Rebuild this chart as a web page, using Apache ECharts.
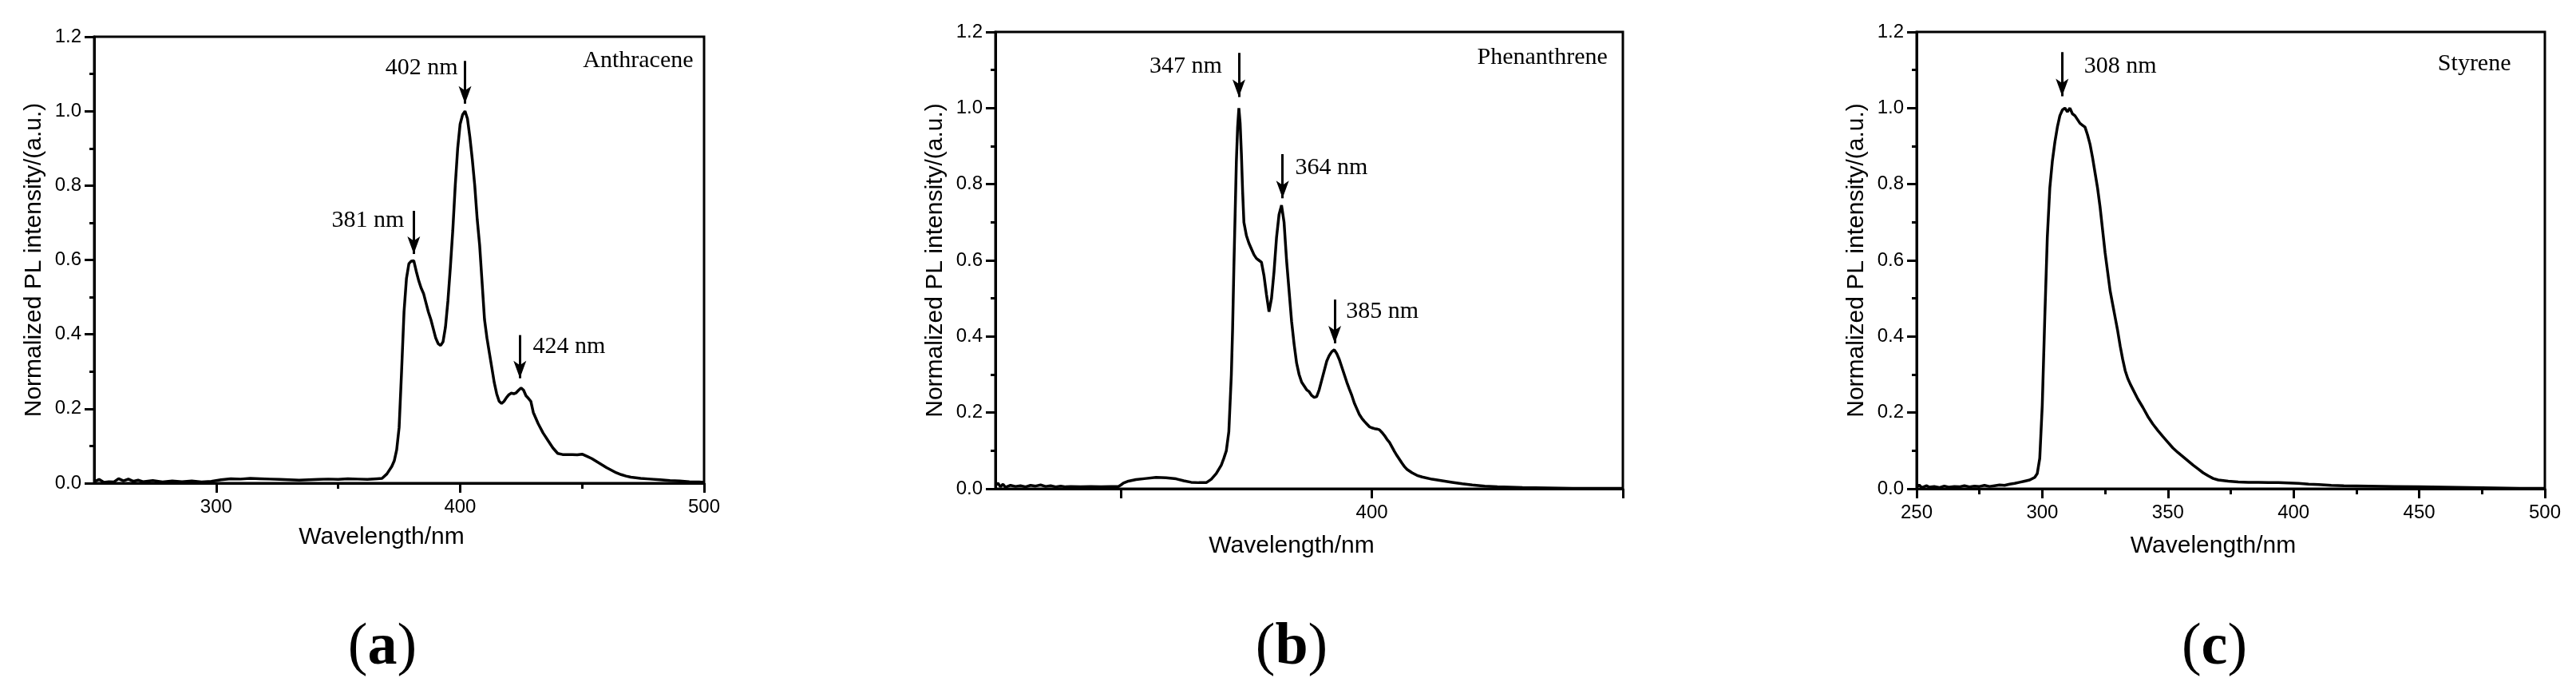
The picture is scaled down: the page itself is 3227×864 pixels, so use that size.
<!DOCTYPE html>
<html>
<head>
<meta charset="utf-8">
<title>PL spectra</title>
<script src="https://cdn.jsdelivr.net/npm/echarts@6.0.0/dist/echarts.min.js"></script>
<style>
html, body { margin: 0; padding: 0; background: #fff; }
#box { width: 3227px; height: 864px; }
</style>
</head>
<body>
<div id="box"></div>
<script>
// (a) Anthracene
var anthWl = [250, 252, 254, 256, 258, 260, 262, 264, 266, 268, 270, 274, 278, 282, 286, 290, 294, 298, 302, 306, 310, 314, 318, 322, 326, 330, 334, 338, 342, 346, 350, 354, 358, 362, 366, 368, 370, 372, 373, 374, 375, 376, 377, 378, 379, 380, 381, 382, 383, 384, 385, 386, 387, 388, 389, 390, 391, 392, 393, 394, 395, 396, 397, 398, 399, 400, 401, 402, 403, 404, 405, 406, 407, 408, 409, 410, 411, 412, 413, 414, 415, 416, 417, 418, 419, 420, 421, 422, 423, 424, 425, 426, 427, 428, 429, 430, 431, 432, 434, 436, 438, 440, 442, 444, 446, 448, 450, 452, 454, 456, 458, 460, 462, 464, 466, 468, 470, 474, 478, 482, 486, 490, 494, 498, 500];
var anthVal = [0.004, 0.010, 0.002, 0.004, 0.003, 0.012, 0.006, 0.011, 0.005, 0.008, 0.004, 0.007, 0.003, 0.006, 0.004, 0.006, 0.003, 0.005, 0.009, 0.012, 0.011, 0.013, 0.012, 0.011, 0.010, 0.009, 0.008, 0.009, 0.010, 0.011, 0.010, 0.012, 0.011, 0.010, 0.012, 0.013, 0.025, 0.045, 0.060, 0.090, 0.150, 0.300, 0.460, 0.550, 0.590, 0.597, 0.598, 0.570, 0.545, 0.525, 0.510, 0.485, 0.460, 0.440, 0.415, 0.390, 0.375, 0.370, 0.380, 0.420, 0.490, 0.580, 0.680, 0.800, 0.900, 0.965, 0.990, 1.000, 0.980, 0.930, 0.870, 0.800, 0.710, 0.640, 0.540, 0.440, 0.390, 0.350, 0.310, 0.270, 0.240, 0.220, 0.214, 0.220, 0.230, 0.238, 0.242, 0.240, 0.243, 0.250, 0.256, 0.250, 0.235, 0.228, 0.220, 0.190, 0.175, 0.160, 0.135, 0.115, 0.095, 0.080, 0.077, 0.077, 0.077, 0.076, 0.078, 0.072, 0.066, 0.058, 0.050, 0.042, 0.035, 0.028, 0.023, 0.019, 0.016, 0.013, 0.011, 0.009, 0.007, 0.006, 0.004, 0.003, 0.002];

// (b) Phenanthrene
var phenWl = [250, 251, 252, 253, 254, 256, 258, 260, 262, 264, 266, 268, 270, 272, 274, 276, 278, 280, 284, 288, 292, 296, 299, 300, 301, 303, 306, 310, 314, 318, 322, 325, 328, 331, 334, 336, 338, 340, 341, 342, 343, 344, 344.5, 345, 345.5, 346, 346.5, 347, 347.5, 348, 348.5, 349, 350, 351, 352, 353, 354, 355, 356, 357, 358, 359, 360, 361, 362, 363, 364, 365, 366, 367, 368, 369, 370, 371, 372, 373, 374, 375, 376, 377, 378, 379, 380, 381, 382, 383, 384, 385, 386, 387, 388, 389, 390, 391, 392, 393, 394, 395, 396, 397, 398, 399, 400, 401, 402, 403, 404, 405, 406, 407, 408, 409, 410, 411, 412, 413, 414, 416, 418, 420, 424, 428, 432, 436, 440, 445, 450, 460, 470, 480, 490, 500];
var phenVal = [0.008, 0.015, 0.005, 0.012, 0.004, 0.009, 0.006, 0.008, 0.005, 0.009, 0.007, 0.010, 0.006, 0.008, 0.005, 0.007, 0.005, 0.006, 0.005, 0.006, 0.005, 0.006, 0.006, 0.010, 0.015, 0.020, 0.024, 0.027, 0.030, 0.029, 0.026, 0.021, 0.017, 0.016, 0.016, 0.025, 0.040, 0.062, 0.080, 0.100, 0.150, 0.300, 0.420, 0.580, 0.720, 0.860, 0.950, 1.000, 0.960, 0.880, 0.780, 0.700, 0.665, 0.645, 0.630, 0.615, 0.605, 0.600, 0.595, 0.560, 0.510, 0.465, 0.500, 0.570, 0.660, 0.720, 0.745, 0.700, 0.600, 0.520, 0.440, 0.380, 0.330, 0.300, 0.280, 0.270, 0.260, 0.255, 0.245, 0.240, 0.242, 0.260, 0.285, 0.310, 0.335, 0.350, 0.360, 0.365, 0.355, 0.340, 0.320, 0.300, 0.280, 0.262, 0.245, 0.225, 0.210, 0.195, 0.185, 0.177, 0.170, 0.163, 0.160, 0.158, 0.157, 0.155, 0.148, 0.140, 0.130, 0.122, 0.110, 0.098, 0.087, 0.077, 0.067, 0.058, 0.051, 0.042, 0.035, 0.031, 0.025, 0.021, 0.017, 0.013, 0.010, 0.007, 0.005, 0.003, 0.002, 0.001, 0.001, 0.001];

// (c) Styrene
var styrWl = [250, 251, 252, 254, 255, 257, 259, 261, 263, 265, 267, 269, 271, 273, 275, 277, 279, 281, 283, 285, 287, 289, 291, 293, 295, 297, 298, 299, 300, 301, 302, 303, 304, 305, 306, 307, 308, 309, 310, 311, 312, 313, 314, 315, 316, 317, 318, 319, 320, 321, 322, 323, 324, 325, 326, 327, 328, 329, 330, 331, 332, 333, 334, 335, 336, 338, 340, 342, 344, 346, 348, 350, 352, 354, 356, 358, 360, 362, 364, 366, 368, 370, 374, 378, 382, 386, 390, 394, 398, 402, 406, 410, 415, 420, 430, 440, 450, 460, 470, 480, 490, 500];
var styrVal = [0.004, 0.010, 0.003, 0.008, 0.004, 0.006, 0.003, 0.007, 0.004, 0.006, 0.005, 0.008, 0.005, 0.007, 0.006, 0.009, 0.006, 0.008, 0.010, 0.009, 0.012, 0.014, 0.017, 0.020, 0.023, 0.030, 0.040, 0.080, 0.220, 0.450, 0.660, 0.790, 0.860, 0.910, 0.950, 0.980, 0.995, 1.000, 0.990, 1.000, 0.985, 0.980, 0.970, 0.960, 0.955, 0.950, 0.930, 0.905, 0.870, 0.830, 0.790, 0.740, 0.680, 0.620, 0.570, 0.520, 0.485, 0.450, 0.415, 0.375, 0.340, 0.310, 0.290, 0.275, 0.262, 0.236, 0.214, 0.190, 0.170, 0.153, 0.137, 0.122, 0.107, 0.095, 0.084, 0.073, 0.062, 0.052, 0.042, 0.034, 0.027, 0.023, 0.020, 0.018, 0.017, 0.017, 0.016, 0.016, 0.015, 0.014, 0.012, 0.011, 0.009, 0.008, 0.007, 0.006, 0.005, 0.004, 0.003, 0.002, 0.001, 0.001];

// peak arrows: [wavelength, top, tip]
var anthArrows = [[402, 1.135, 1.02], [381, 0.732, 0.616], [424.5, 0.398, 0.282]];
var phenArrows = [[347, 1.145, 1.029], [364.4, 0.879, 0.763], [385.2, 0.497, 0.382]];
var styrArrows = [[307.9, 1.147, 1.031]];

// text notes: [text, wavelength, y, side]
var anthNotes = [['402 nm', 399.1, 1.117, 'left'], ['381 nm', 377.1, 0.706, 'left'], ['424 nm', 429.8, 0.367, 'right'], ['Anthracene', 495.6, 1.135, 'left']];
var phenNotes = [['347 nm', 340.3, 1.11, 'left'], ['364 nm', 369.4, 0.844, 'right'], ['385 nm', 389.7, 0.465, 'right'], ['Phenanthrene', 493.9, 1.133, 'left']];
var styrNotes = [['308 nm', 316.6, 1.11, 'right'], ['Styrene', 486.5, 1.116, 'left']];

var sans = 'Liberation Sans';
var serif = 'Liberation Serif';

function pairs(xs, ys) {
    return xs.map(function (x, i) { return [x, ys[i]]; });
}

function yAxisFor(gi) {
    return {
        gridIndex: gi, type: 'value', min: 0, max: 1.2, interval: 0.2,
        name: 'Normalized PL intensity/(a.u.)', nameLocation: 'middle', nameGap: 60, nameMoveOverlap: false,
        nameTextStyle: { fontFamily: sans, fontSize: 30, color: '#000' },
        axisLine: { show: true, lineStyle: { color: '#000', width: 3 } },
        axisTick: { show: true, inside: false, length: 12, lineStyle: { color: '#000', width: 3 } },
        minorTick: { show: true, splitNumber: 2, length: 6, lineStyle: { color: '#000', width: 3 } },
        axisLabel: { margin: 16, fontFamily: sans, fontSize: 24, color: '#000',
            formatter: function (v) { return v.toFixed(1); } },
        splitLine: { show: false }, minorSplitLine: { show: false }
    };
}

function xAxisFor(gi, opt) {
    var ax = {
        gridIndex: gi, type: 'value', min: 250, max: 500, interval: 50, position: 'bottom',
        name: 'Wavelength/nm', nameLocation: 'middle', nameGap: opt.nameGap, nameMoveOverlap: false,
        nameTextStyle: { fontFamily: sans, fontSize: 30, color: '#000', padding: [0, 44, 0, 0] },
        axisLine: { show: true, onZero: false, lineStyle: { color: '#000', width: 3 } },
        axisTick: { show: true, inside: false, length: 12, lineStyle: { color: '#000', width: 3 } },
        axisLabel: { margin: 18, fontFamily: sans, fontSize: 24, color: '#000' },
        splitLine: { show: false }
    };
    if (opt.ticks) ax.axisTick.customValues = opt.ticks;
    if (opt.labels) ax.axisLabel.customValues = opt.labels;
    if (opt.minor) ax.minorTick = { show: true, splitNumber: 2, length: 7, lineStyle: { color: '#000', width: 3 } };
    return ax;
}

function minorXAxis(gi, vals) {
    return {
        gridIndex: gi, type: 'value', min: 250, max: 500, interval: 50, position: 'bottom',
        axisLine: { show: false, onZero: false },
        axisTick: { show: true, inside: false, length: 7, customValues: vals, lineStyle: { color: '#000', width: 3 } },
        axisLabel: { show: false }, splitLine: { show: false }
    };
}

function spectrum(xi, yi, xs, ys, arrows, notes) {
    return {
        type: 'line', xAxisIndex: xi, yAxisIndex: yi, data: pairs(xs, ys),
        showSymbol: false, symbol: 'none', silent: true,
        lineStyle: { color: '#000', width: 3.5 },
        markLine: {
            silent: true, symbol: ['none', 'arrow'], symbolSize: [12, 22],
            label: { show: false },
            lineStyle: { color: '#000', width: 3, type: 'solid' },
            data: arrows.map(function (a) {
                return [{ coord: [a[0], a[1]] }, { coord: [a[0], a[2]] }];
            })
        },
        markPoint: {
            silent: true, symbol: 'rect', symbolSize: 0,
            label: { fontFamily: serif, fontSize: 30, color: '#000' },
            data: notes.map(function (n) {
                return { coord: [n[1], n[2]], label: { show: true, position: n[3], distance: 0, formatter: n[0] } };
            })
        }
    };
}

function panelLabel(x, letter) {
    return {
        type: 'text', x: x, y: 812,
        style: {
            text: '{p|(}{l|' + letter + '}{p|)}', align: 'center', verticalAlign: 'middle', fill: '#000',
            rich: {
                p: { fontFamily: serif, fontSize: 74, fontWeight: 'normal', fill: '#000' },
                l: { fontFamily: serif, fontSize: 74, fontWeight: 'bold', fill: '#000' }
            }
        }
    };
}

var myChart = echarts.init(document.getElementById('box'));

var option = {
    backgroundColor: '#fff',
    animation: false,
    grid: [
        { left: 118, top: 46, width: 764, height: 559, show: true, borderColor: '#000', borderWidth: 3, outerBoundsMode: 'none' },
        { left: 1247, top: 40, width: 786, height: 572, show: true, borderColor: '#000', borderWidth: 3, outerBoundsMode: 'none' },
        { left: 2401, top: 40, width: 787, height: 572, show: true, borderColor: '#000', borderWidth: 3, outerBoundsMode: 'none' }
    ],
    xAxis: [
        xAxisFor(0, { nameGap: 53, ticks: [300, 400, 500], labels: [300, 400, 500] }),
        minorXAxis(0, [350, 450]),
        xAxisFor(1, { nameGap: 57, ticks: [300, 400, 500], labels: [400] }),
        xAxisFor(2, { nameGap: 57, minor: true })
    ],
    yAxis: [yAxisFor(0), yAxisFor(1), yAxisFor(2)],
    series: [
        spectrum(0, 0, anthWl, anthVal, anthArrows, anthNotes),
        spectrum(2, 1, phenWl, phenVal, phenArrows, phenNotes),
        spectrum(3, 2, styrWl, styrVal, styrArrows, styrNotes)
    ],
    graphic: [panelLabel(479, 'a'), panelLabel(1618, 'b'), panelLabel(2774, 'c')]
};

myChart.setOption(option);
</script>
</body>
</html>
